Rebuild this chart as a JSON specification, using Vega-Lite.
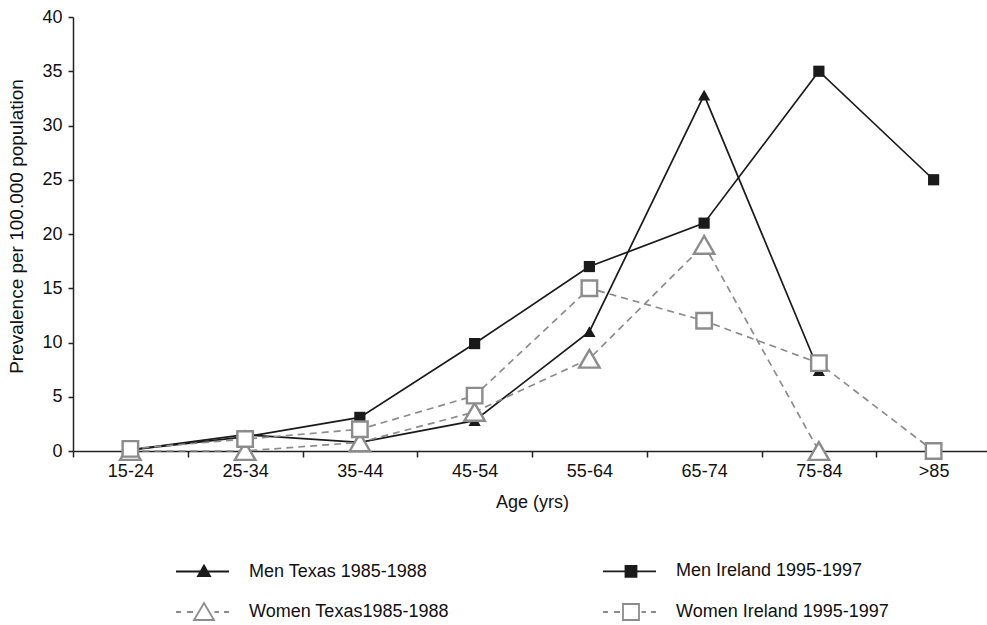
{
  "$schema": "https://vega.github.io/schema/vega-lite/v6.json",
  "width": 918,
  "height": 434,
  "autosize": {"type": "none"},
  "padding": {"left": 73, "top": 17, "right": 0, "bottom": 174},
  "background": "white",
  "config": {
    "font": "Liberation Sans",
    "view": {"stroke": null},
    "axis": {"grid": false, "domainColor": "#222222", "tickColor": "#222222", "domainWidth": 1.5, "tickWidth": 1.5, "labelColor": "#111111", "titleColor": "#111111", "labelFontSize": 18, "titleFontSize": 18, "titleFontWeight": "normal"},
    "legend": {
      "title": null, "orient": "none", "legendX": 99, "legendY": 545, "columns": 2, "direction": "horizontal",
      "padding": 0, "symbolSize": 100, "labelFontSize": 18, "labelColor": "#111111", "labelOffset": 59,
      "columnPadding": 150, "rowPadding": 18, "labelLimit": 400, "symbolStrokeWidth": 1.8, "symbolOpacity": 1
    }
  },
  "data": {
    "values": [
      {"age": "15-24", "series": "Men Texas 1985-1988", "value": 0.1},
      {"age": "25-34", "series": "Men Texas 1985-1988", "value": 1.5},
      {"age": "35-44", "series": "Men Texas 1985-1988", "value": 0.8},
      {"age": "45-54", "series": "Men Texas 1985-1988", "value": 2.8},
      {"age": "55-64", "series": "Men Texas 1985-1988", "value": 11.0},
      {"age": "65-74", "series": "Men Texas 1985-1988", "value": 32.8},
      {"age": "75-84", "series": "Men Texas 1985-1988", "value": 7.4},
      {"age": "15-24", "series": "Men Ireland 1995-1997", "value": 0.1},
      {"age": "25-34", "series": "Men Ireland 1995-1997", "value": 1.3},
      {"age": "35-44", "series": "Men Ireland 1995-1997", "value": 3.1},
      {"age": "45-54", "series": "Men Ireland 1995-1997", "value": 9.9},
      {"age": "55-64", "series": "Men Ireland 1995-1997", "value": 17.0},
      {"age": "65-74", "series": "Men Ireland 1995-1997", "value": 21.0},
      {"age": "75-84", "series": "Men Ireland 1995-1997", "value": 35.0},
      {"age": ">85", "series": "Men Ireland 1995-1997", "value": 25.0},
      {"age": "15-24", "series": "Women Texas1985-1988", "value": 0.0},
      {"age": "25-34", "series": "Women Texas1985-1988", "value": 0.0},
      {"age": "35-44", "series": "Women Texas1985-1988", "value": 0.8},
      {"age": "45-54", "series": "Women Texas1985-1988", "value": 3.6},
      {"age": "55-64", "series": "Women Texas1985-1988", "value": 8.5},
      {"age": "65-74", "series": "Women Texas1985-1988", "value": 19.0},
      {"age": "75-84", "series": "Women Texas1985-1988", "value": 0.0},
      {"age": "15-24", "series": "Women Ireland 1995-1997", "value": 0.2},
      {"age": "25-34", "series": "Women Ireland 1995-1997", "value": 1.1},
      {"age": "35-44", "series": "Women Ireland 1995-1997", "value": 2.0},
      {"age": "45-54", "series": "Women Ireland 1995-1997", "value": 5.1},
      {"age": "55-64", "series": "Women Ireland 1995-1997", "value": 15.0},
      {"age": "65-74", "series": "Women Ireland 1995-1997", "value": 12.0},
      {"age": "75-84", "series": "Women Ireland 1995-1997", "value": 8.1},
      {"age": ">85", "series": "Women Ireland 1995-1997", "value": 0.0}
    ]
  },
  "encoding": {
    "x": {
      "field": "age", "type": "nominal",
      "sort": ["15-24", "25-34", "35-44", "45-54", "55-64", "65-74", "75-84", ">85"],
      "scale": {"domain": ["15-24", "25-34", "35-44", "45-54", "55-64", "65-74", "75-84", ">85"], "paddingInner": 0, "paddingOuter": 0},
      "axis": {"title": "Age (yrs)", "labelAngle": 0, "tickBand": "extent", "tickSize": 6, "labelPadding": 5, "titlePadding": 13}
    },
    "y": {
      "field": "value", "type": "quantitative",
      "scale": {"domain": [0, 40], "nice": false, "zero": true},
      "axis": {"title": "Prevalence per 100.000 population", "values": [0, 5, 10, 15, 20, 25, 30, 35, 40], "tickSize": 5, "labelPadding": 6, "titleFontSize": 19, "titleX": -47, "titleY": 209}
    }
  },
  "layer": [
    {
      "mark": {"type": "point", "filled": true, "size": 0, "strokeWidth": 1.8, "opacity": 1},
      "encoding": {
        "shape": {"field": "series", "type": "nominal",
          "scale": {"domain": ["Men Texas 1985-1988", "Men Ireland 1995-1997", "Women Texas1985-1988", "Women Ireland 1995-1997"],
            "range": [
              "M-1,0L9.6,0M3.4,0.9L5.8,0.9L4.6,-1.2Z",
              "M-1,0L9.6,0M3.5,-1.1L5.7,-1.1L5.7,1.1L3.5,1.1Z",
              "M-1,0L0,0M1.2,0L2.4,0M6.7,0L7.6,0M8.6,0L9.6,0M2.6,1.6L6.6,1.6L4.6,-1.8Z",
              "M-1,0L0,0M1.2,0L2.4,0M6.7,0L7.6,0M8.6,0L9.6,0M3,-1.6L6.2,-1.6L6.2,1.6L3,1.6Z"
            ]}},
        "fill": {"field": "series", "type": "nominal",
          "scale": {"domain": ["Men Texas 1985-1988", "Men Ireland 1995-1997", "Women Texas1985-1988", "Women Ireland 1995-1997"], "range": ["#1a1a1a", "#1a1a1a", "#ffffff", "#ffffff"]}},
        "stroke": {"field": "series", "type": "nominal",
          "scale": {"domain": ["Men Texas 1985-1988", "Men Ireland 1995-1997", "Women Texas1985-1988", "Women Ireland 1995-1997"], "range": ["#1a1a1a", "#1a1a1a", "#8c8c8c", "#8c8c8c"]}}
      }
    },
    {
      "transform": [{"filter": "indexof(datum.series, 'Men') == 0"}],
      "mark": {"type": "line", "strokeWidth": 1.7, "stroke": "#1a1a1a"},
      "encoding": {"detail": {"field": "series", "type": "nominal"}}
    },
    {
      "transform": [{"filter": "indexof(datum.series, 'Women') == 0"}],
      "mark": {"type": "line", "strokeWidth": 1.7, "stroke": "#8c8c8c", "strokeDash": [7, 5]},
      "encoding": {"detail": {"field": "series", "type": "nominal"}}
    },
    {
      "transform": [{"filter": "datum.series == 'Men Texas 1985-1988'"}],
      "mark": {"type": "point", "shape": "triangle-up", "filled": true, "fill": "#1a1a1a", "stroke": "#1a1a1a", "strokeWidth": 0, "size": 150, "opacity": 1}
    },
    {
      "transform": [{"filter": "datum.series == 'Men Ireland 1995-1997'"}],
      "mark": {"type": "point", "shape": "square", "filled": true, "fill": "#1a1a1a", "stroke": "#1a1a1a", "strokeWidth": 0, "size": 125, "opacity": 1}
    },
    {
      "transform": [{"filter": "datum.series == 'Women Texas1985-1988'"}],
      "mark": {"type": "point", "shape": "triangle-up", "filled": false, "fill": "#ffffff", "fillOpacity": 1, "stroke": "#8c8c8c", "strokeWidth": 2.4, "size": 420, "opacity": 1}
    },
    {
      "transform": [{"filter": "datum.series == 'Women Ireland 1995-1997'"}],
      "mark": {"type": "point", "shape": "square", "filled": false, "fill": "#ffffff", "fillOpacity": 1, "stroke": "#8c8c8c", "strokeWidth": 2.4, "size": 240, "opacity": 1}
    }
  ]
}
